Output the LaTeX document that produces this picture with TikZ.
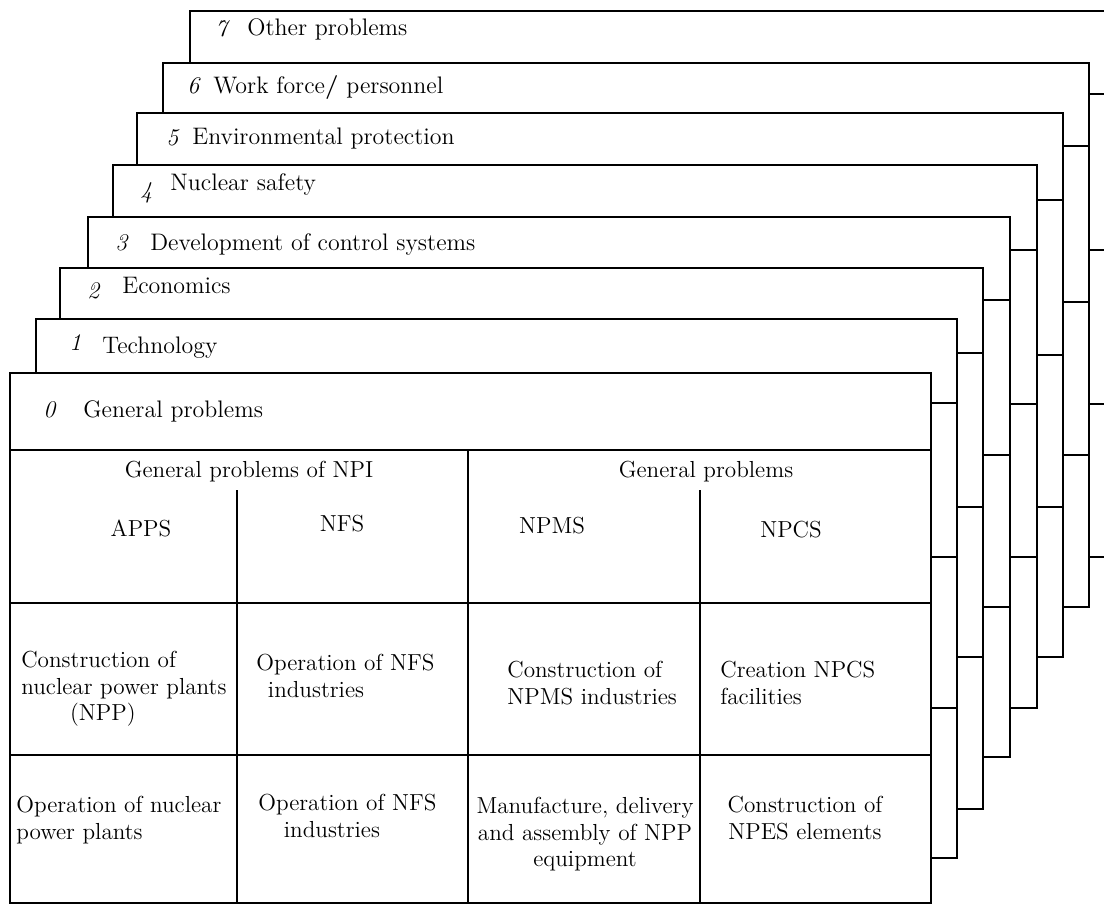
\documentclass[tikz,border=0pt]{standalone}
\usepackage{fontspec}
\usepackage{tikz}

\begin{document}
\begin{tikzpicture}[
  x=0.02cm, y=-0.02cm,
  card/.style={draw, fill=white, line width=0.8pt},
  divider/.style={line width=0.7pt},
  num/.style={font=\fontsize{13.6}{15}\selectfont\itshape, inner sep=0pt, anchor=base west},
  heading/.style={font=\fontsize{13.6}{15}\selectfont, inner sep=0pt, anchor=base west},
  cell/.style={font=\fontsize{13.2}{15}\selectfont, inner sep=0pt, align=left, anchor=north west},
  ccell/.style={cell, align=center, anchor=north},
  chead/.style={cell, anchor=base}
]
\useasboundingbox (0,0) rectangle (1104,907);
\clip (0,0) rectangle (1104,907);

% stack of cards, back (7) to front (0): left/top/right/bottom and three row rules
\foreach \l/\t/\r/\b/\ya/\yb/\yc in {
  190/11/1116/557/94/250/404,
  163/63/1089/607/146/302/455,
  137/113/1063/657/200/355/507,
  113/165/1037/708/250/404/557,
  88/217/1010/757/300/455/607,
  60/268/983/809/353/507/657,
  36/319/957/858/403/557/708,
  10/373/931/903/450/603/755}
{
  \draw[card] (\l,\t) rectangle (\r,\b);
  \draw[divider] (\l,\ya) -- (\r,\ya) (\l,\yb) -- (\r,\yb) (\l,\yc) -- (\r,\yc);
}

% columns of the front card
\draw[divider] (468,450) -- (468,903);
\draw[divider] (237,490) -- (237,903);
\draw[divider] (700,490) -- (700,903);

% card titles
\node[num] (n7) at (215,36) {7};
\node[heading] (t7) at (247,35) {Other problems};
\node[num] (n6) at (187,93) {6};
\node[heading] (t6) at (213,93) {Work force\textbf{/} personnel};
\node[num] (n5) at (166,145) {5};
\node[heading] (t5) at (192,144) {Environmental protection};
\node[num] (n4) at (140,198) {4};
\node[heading] (t4) at (170,190) {Nuclear safety};
\node[num] (n3) at (115,250) {3};
\node[heading] (t3) at (150,250) {Development of control systems};
\node[num] (n2) at (87,298) {2};
\node[heading] (t2) at (122,293) {Economics};
\node[num] (n1) at (69,350) {1};
\node[heading] (t1) at (102,353) {Technology};
\node[num] (n0) at (43,417) {0};
\node[heading] (t0) at (83,417) {General problems};

% table of the front card
\node[chead] (npi) at (249,477) {General problems of NPI};
\node[chead] (gen) at (706,477) {General problems};
\node[chead] (apps) at (141,536) {APPS};
\node[chead] (nfs) at (342,531) {NFS};
\node[chead] (npms) at (552,533) {NPMS};
\node[chead] (npcs) at (791,537) {NPCS};

\node[cell] (buildnpp) at (21,651) {Construction of\\nuclear power plants\\\hspace*{2.1em}(NPP)};
\node[cell] (runnfsa) at (256,654) {Operation of NFS\\\hspace*{0.5em}industries};
\node[cell] (buildnpms) at (507,661) {Construction of\\NPMS industries};
\node[cell] (makenpcs) at (720,661) {Creation NPCS\\facilities};

\node[cell] (runnpp) at (16,796) {Operation of nuclear\\power plants};
\node[cell] (runnfsb) at (258,794) {Operation of NFS\\\hspace*{1.1em}industries};
\node[ccell] (supply) at (585,797) {Manufacture, delivery\\and assembly of NPP\\equipment};
\node[ccell] (buildnpes) at (805,796) {Construction of\\NPES elements};

\end{tikzpicture}
\end{document}
